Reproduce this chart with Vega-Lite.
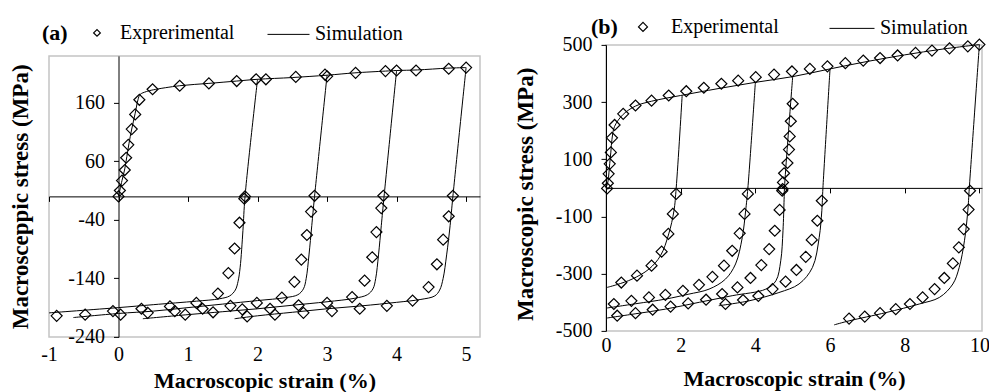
{
  "$schema": "https://vega.github.io/schema/vega-lite/v6.json",
  "background": "white",
  "padding": {"left": 8, "top": 4.5, "right": 0, "bottom": 0},
  "spacing": 32,
  "center": true,
  "config": {
    "font": "Liberation Serif",
    "view": {"stroke": "#c4c4c4", "strokeWidth": 1.5},
    "axis": {"grid": false, "domainColor": "black", "tickColor": "black", "labelColor": "black", "titleColor": "black", "labelFont": "Liberation Serif", "titleFont": "Liberation Serif", "labelFontSize": 20, "titleFontSize": 22, "titleFontWeight": "bold", "tickSize": 5, "labelFlush": false, "labelOverlap": false, "domainWidth": 1, "tickWidth": 1, "labelExpr": "'' + datum.value"},
    "legend": {"labelFont": "Liberation Serif", "titleFont": "Liberation Serif", "labelColor": "black", "titleColor": "black", "labelFontSize": 20}
  },
  "resolve": {"scale": {"color": "independent", "shape": "independent", "x": "independent", "y": "independent"}, "legend": {"color": "independent", "shape": "independent"}},
  "datasets": {
    "a_sim": [
      {"s":"L","o":1,"x":0,"y":0},{"s":"L","o":2,"x":0.05,"y":27},{"s":"L","o":3,"x":0.09,"y":47},{"s":"L","o":4,"x":0.12,"y":68},{"s":"L","o":5,"x":0.15,"y":90},{"s":"L","o":6,"x":0.19,"y":115},{"s":"L","o":7,"x":0.24,"y":142},{"s":"L","o":8,"x":0.28,"y":165},{"s":"L","o":9,"x":0.31,"y":174},{"s":"L","o":10,"x":0.4,"y":179},{"s":"L","o":11,"x":0.5,"y":182},{"s":"L","o":12,"x":0.88,"y":189},{"s":"L","o":13,"x":1.3,"y":193},{"s":"L","o":14,"x":1.7,"y":197},{"s":"L","o":15,"x":2.0,"y":200},{"s":"L","o":16,"x":2.5,"y":203},{"s":"L","o":17,"x":3.0,"y":207},{"s":"L","o":18,"x":3.4,"y":211},{"s":"L","o":19,"x":3.84,"y":214},{"s":"L","o":20,"x":4.0,"y":215},{"s":"L","o":21,"x":4.3,"y":216},{"s":"L","o":22,"x":4.73,"y":219},{"s":"L","o":23,"x":5.0,"y":220},
      {"s":"C1","o":1,"x":2.0,"y":200},{"s":"C1","o":2,"x":1.82,"y":0},{"s":"C1","o":3,"x":1.79,"y":-58},{"s":"C1","o":4,"x":1.75,"y":-121},{"s":"C1","o":5,"x":1.72,"y":-145},{"s":"C1","o":6,"x":1.68,"y":-160},{"s":"C1","o":7,"x":1.6,"y":-170},{"s":"C1","o":8,"x":1.45,"y":-175},{"s":"C1","o":9,"x":1.12,"y":-179},{"s":"C1","o":10,"x":0.5,"y":-185},{"s":"C1","o":11,"x":0,"y":-190},{"s":"C1","o":12,"x":-1.0,"y":-199},
      {"s":"C2","o":1,"x":3.0,"y":207},{"s":"C2","o":2,"x":2.82,"y":0},{"s":"C2","o":3,"x":2.78,"y":-50},{"s":"C2","o":4,"x":2.74,"y":-100},{"s":"C2","o":5,"x":2.7,"y":-140},{"s":"C2","o":6,"x":2.66,"y":-158},{"s":"C2","o":7,"x":2.58,"y":-168},{"s":"C2","o":8,"x":2.4,"y":-173},{"s":"C2","o":9,"x":2.0,"y":-178},{"s":"C2","o":10,"x":1.5,"y":-184},{"s":"C2","o":11,"x":1.0,"y":-190},{"s":"C2","o":12,"x":0.5,"y":-196},{"s":"C2","o":13,"x":0,"y":-200},{"s":"C2","o":14,"x":-0.65,"y":-207},
      {"s":"C3","o":1,"x":4.0,"y":215},{"s":"C3","o":2,"x":3.82,"y":0},{"s":"C3","o":3,"x":3.78,"y":-50},{"s":"C3","o":4,"x":3.74,"y":-100},{"s":"C3","o":5,"x":3.7,"y":-140},{"s":"C3","o":6,"x":3.66,"y":-158},{"s":"C3","o":7,"x":3.58,"y":-168},{"s":"C3","o":8,"x":3.4,"y":-174},{"s":"C3","o":9,"x":3.0,"y":-180},{"s":"C3","o":10,"x":2.5,"y":-186},{"s":"C3","o":11,"x":2.0,"y":-192},{"s":"C3","o":12,"x":1.5,"y":-197},{"s":"C3","o":13,"x":1.0,"y":-202},{"s":"C3","o":14,"x":0.35,"y":-209},
      {"s":"C4","o":1,"x":5.0,"y":220},{"s":"C4","o":2,"x":4.81,"y":0},{"s":"C4","o":3,"x":4.77,"y":-50},{"s":"C4","o":4,"x":4.72,"y":-100},{"s":"C4","o":5,"x":4.67,"y":-140},{"s":"C4","o":6,"x":4.62,"y":-160},{"s":"C4","o":7,"x":4.55,"y":-170},{"s":"C4","o":8,"x":4.35,"y":-176},{"s":"C4","o":9,"x":4.0,"y":-181},{"s":"C4","o":10,"x":3.5,"y":-187},{"s":"C4","o":11,"x":3.0,"y":-192},{"s":"C4","o":12,"x":2.5,"y":-198},{"s":"C4","o":13,"x":2.0,"y":-204},{"s":"C4","o":14,"x":1.67,"y":-209}
    ],
    "a_exp": [
      {"x":0,"y":0},{"x":0.02,"y":10},{"x":0.05,"y":27},{"x":0.09,"y":45},{"x":0.11,"y":66},{"x":0.14,"y":88},{"x":0.19,"y":115},{"x":0.24,"y":140},{"x":0.3,"y":165},{"x":0.49,"y":183},{"x":0.88,"y":189},{"x":1.3,"y":193},{"x":1.7,"y":197},{"x":1.98,"y":200},{"x":2.12,"y":200},{"x":2.55,"y":204},{"x":2.97,"y":208},{"x":3.0,"y":205},{"x":3.41,"y":211},{"x":3.84,"y":214},{"x":4.0,"y":215},{"x":4.28,"y":215},{"x":4.75,"y":218},{"x":5.0,"y":220},
      {"x":1.82,"y":0},{"x":2.82,"y":1},{"x":3.81,"y":1},{"x":4.81,"y":1},
      {"x":1.81,"y":-4},{"x":1.74,"y":-45},{"x":1.67,"y":-89},{"x":1.58,"y":-131},{"x":1.43,"y":-166},{"x":1.12,"y":-182},{"x":0.74,"y":-188},{"x":0.33,"y":-192},{"x":-0.08,"y":-196},{"x":-0.48,"y":-202},{"x":-0.89,"y":-204},
      {"x":2.77,"y":-26},{"x":2.71,"y":-66},{"x":2.63,"y":-108},{"x":2.53,"y":-146},{"x":2.35,"y":-173},{"x":1.99,"y":-182},{"x":1.61,"y":-187},{"x":1.21,"y":-192},{"x":0.81,"y":-196},{"x":0.42,"y":-199},{"x":0.03,"y":-202},
      {"x":3.78,"y":-20},{"x":3.71,"y":-61},{"x":3.65,"y":-104},{"x":3.54,"y":-144},{"x":3.36,"y":-172},{"x":3.0,"y":-182},{"x":2.59,"y":-186},{"x":2.18,"y":-192},{"x":1.78,"y":-193},{"x":1.36,"y":-198},{"x":0.96,"y":-202},
      {"x":4.75,"y":-34},{"x":4.67,"y":-74},{"x":4.58,"y":-116},{"x":4.46,"y":-155},{"x":4.23,"y":-178},{"x":3.86,"y":-187},{"x":3.47,"y":-192},{"x":3.07,"y":-196},{"x":2.66,"y":-199},{"x":2.25,"y":-202},{"x":1.85,"y":-205}
    ],
    "b_sim": [
      {"s":"L","o":1,"x":0,"y":0},{"s":"L","o":2,"x":0.05,"y":20},{"s":"L","o":3,"x":0.08,"y":55},{"s":"L","o":4,"x":0.1,"y":85},{"s":"L","o":5,"x":0.13,"y":125},{"s":"L","o":6,"x":0.16,"y":170},{"s":"L","o":7,"x":0.23,"y":215},{"s":"L","o":8,"x":0.46,"y":257},{"s":"L","o":9,"x":0.79,"y":286},{"s":"L","o":10,"x":1.22,"y":303},{"s":"L","o":11,"x":2.0,"y":323},{"s":"L","o":12,"x":3.0,"y":347},{"s":"L","o":13,"x":4.0,"y":369},{"s":"L","o":14,"x":5.0,"y":389},{"s":"L","o":15,"x":6.0,"y":416},{"s":"L","o":16,"x":7.0,"y":442},{"s":"L","o":17,"x":8.0,"y":465},{"s":"L","o":18,"x":9.0,"y":485},{"s":"L","o":19,"x":10.0,"y":501},
      {"s":"C1","o":1,"x":2.04,"y":323},{"s":"C1","o":2,"x":1.88,"y":0},{"s":"C1","o":3,"x":1.82,"y":-80},{"s":"C1","o":4,"x":1.68,"y":-161},{"s":"C1","o":5,"x":1.46,"y":-237},{"s":"C1","o":6,"x":1.15,"y":-284},{"s":"C1","o":7,"x":0.7,"y":-319},{"s":"C1","o":8,"x":0.3,"y":-338},{"s":"C1","o":9,"x":0.03,"y":-348},
      {"s":"C2","o":1,"x":4.0,"y":369},{"s":"C2","o":2,"x":3.8,"y":0},{"s":"C2","o":3,"x":3.74,"y":-80},{"s":"C2","o":4,"x":3.65,"y":-173},{"s":"C2","o":5,"x":3.47,"y":-266},{"s":"C2","o":6,"x":3.2,"y":-319},{"s":"C2","o":7,"x":2.76,"y":-354},{"s":"C2","o":8,"x":2.2,"y":-372},{"s":"C2","o":9,"x":1.59,"y":-389},{"s":"C2","o":10,"x":0.8,"y":-405},{"s":"C2","o":11,"x":0.03,"y":-420},
      {"s":"C3","o":1,"x":5.0,"y":389},{"s":"C3","o":2,"x":4.78,"y":0},{"s":"C3","o":3,"x":4.77,"y":-40},{"s":"C3","o":4,"x":4.74,"y":-150},{"s":"C3","o":5,"x":4.68,"y":-255},{"s":"C3","o":6,"x":4.55,"y":-325},{"s":"C3","o":7,"x":4.28,"y":-354},{"s":"C3","o":8,"x":3.38,"y":-377},{"s":"C3","o":9,"x":2.5,"y":-400},{"s":"C3","o":10,"x":1.59,"y":-424},{"s":"C3","o":11,"x":0.8,"y":-440},{"s":"C3","o":12,"x":0.03,"y":-455},
      {"s":"C4","o":1,"x":6.0,"y":416},{"s":"C4","o":2,"x":5.81,"y":0},{"s":"C4","o":3,"x":5.78,"y":-80},{"s":"C4","o":4,"x":5.71,"y":-173},{"s":"C4","o":5,"x":5.53,"y":-278},{"s":"C4","o":6,"x":5.17,"y":-336},{"s":"C4","o":7,"x":4.63,"y":-366},{"s":"C4","o":8,"x":3.83,"y":-395},{"s":"C4","o":9,"x":3.02,"y":-412},
      {"s":"C5","o":1,"x":10.0,"y":501},{"s":"C5","o":2,"x":9.73,"y":0},{"s":"C5","o":3,"x":9.69,"y":-80},{"s":"C5","o":4,"x":9.6,"y":-185},{"s":"C5","o":5,"x":9.46,"y":-278},{"s":"C5","o":6,"x":9.29,"y":-336},{"s":"C5","o":7,"x":8.93,"y":-383},{"s":"C5","o":8,"x":8.39,"y":-406},{"s":"C5","o":9,"x":7.5,"y":-436},{"s":"C5","o":10,"x":6.51,"y":-465},{"s":"C5","o":11,"x":6.11,"y":-479}
    ],
    "b_exp": [
      {"x":0.03,"y":-2},{"x":0.05,"y":16},{"x":0.07,"y":49},{"x":0.1,"y":84},{"x":0.13,"y":124},{"x":0.16,"y":175},{"x":0.23,"y":220},{"x":0.46,"y":259},{"x":0.79,"y":288},{"x":1.22,"y":305},{"x":1.68,"y":323},{"x":2.15,"y":338},{"x":2.62,"y":350},{"x":3.09,"y":364},{"x":3.54,"y":375},{"x":4.01,"y":387},{"x":4.5,"y":396},{"x":4.98,"y":407},{"x":5.46,"y":416},{"x":5.93,"y":425},{"x":6.41,"y":436},{"x":6.89,"y":445},{"x":7.34,"y":454},{"x":7.81,"y":463},{"x":8.29,"y":472},{"x":8.73,"y":480},{"x":9.2,"y":488},{"x":9.69,"y":495},{"x":10.0,"y":501},
      {"x":4.73,"y":-4},{"x":4.74,"y":19},{"x":4.77,"y":51},{"x":4.86,"y":87},{"x":4.9,"y":134},{"x":4.92,"y":180},{"x":4.95,"y":233},{"x":5.0,"y":294},
      {"x":1.88,"y":-21},{"x":1.79,"y":-91},{"x":1.67,"y":-161},{"x":1.49,"y":-223},{"x":1.22,"y":-272},{"x":0.83,"y":-307},{"x":0.41,"y":-331},
      {"x":3.8,"y":-21},{"x":3.71,"y":-91},{"x":3.58,"y":-159},{"x":3.38,"y":-220},{"x":3.16,"y":-272},{"x":2.85,"y":-311},{"x":2.49,"y":-339},{"x":2.06,"y":-360},{"x":1.59,"y":-374},{"x":1.15,"y":-383},{"x":0.68,"y":-395},{"x":0.21,"y":-406},
      {"x":4.72,"y":-10},{"x":4.65,"y":-77},{"x":4.52,"y":-150},{"x":4.37,"y":-214},{"x":4.16,"y":-270},{"x":3.87,"y":-315},{"x":3.52,"y":-348},{"x":3.11,"y":-371},{"x":2.68,"y":-391},{"x":2.2,"y":-404},{"x":1.73,"y":-415},{"x":1.25,"y":-426},{"x":0.79,"y":-438},{"x":0.3,"y":-447},
      {"x":5.78,"y":-45},{"x":5.66,"y":-115},{"x":5.51,"y":-182},{"x":5.35,"y":-241},{"x":5.1,"y":-287},{"x":4.81,"y":-328},{"x":4.46,"y":-354},{"x":4.08,"y":-378},{"x":3.67,"y":-392},{"x":3.2,"y":-406},
      {"x":9.75,"y":-10},{"x":9.71,"y":-76},{"x":9.58,"y":-144},{"x":9.45,"y":-208},{"x":9.29,"y":-264},{"x":9.06,"y":-315},{"x":8.8,"y":-354},{"x":8.48,"y":-383},{"x":8.14,"y":-406},{"x":7.76,"y":-424},{"x":7.34,"y":-438},{"x":6.93,"y":-450},{"x":6.51,"y":-457}
    ]
  },
  "hconcat": [
    {
      "width": 431,
      "height": 281,
      "layer": [
        {
          "data": {"name": "a_sim"},
          "mark": {"type": "line", "strokeWidth": 1, "interpolate": "catmull-rom"},
          "encoding": {
            "x": {"field": "x", "type": "quantitative", "scale": {"domain": [-1, 5.2], "nice": false, "zero": false},
                  "axis": {"values": [-1, 0, 1, 2, 3, 4, 5], "offset": -140.5, "labelPadding": 159, "labelBaseline": "alphabetic", "title": "Macroscopic strain (%)", "titleY": 191, "titleBaseline": "alphabetic"}},
            "y": {"field": "y", "type": "quantitative", "scale": {"domain": [-240, 240], "nice": false, "zero": false},
                  "axis": {"values": [-240, -140, -40, 60, 160], "offset": -69.5, "labelPadding": 9, "title": "Macrosceppic stress (MPa)", "titleFontSize": 23, "titleX": -86}},
            "detail": {"field": "s"},
            "order": {"field": "o"},
            "color": {"datum": "Simulation", "type": "nominal", "scale": {"domain": ["Simulation"], "range": ["black"]},
                      "legend": {"orient": "none", "legendX": 211.5, "legendY": -49.5, "padding": 6.5, "title": null, "labelOffset": 5, "symbolType": "stroke", "symbolSize": 1764, "symbolStrokeWidth": 1, "symbolStrokeColor": "black"}}
          }
        },
        {
          "data": {"name": "a_exp"},
          "mark": {"type": "point", "shape": "diamond", "filled": false, "color": "black", "size": 121, "strokeWidth": 1.2, "opacity": 1},
          "encoding": {
            "x": {"field": "x", "type": "quantitative"},
            "y": {"field": "y", "type": "quantitative"},
            "shape": {"datum": "Exprerimental", "type": "nominal", "scale": {"domain": ["Exprerimental"], "range": ["diamond"]},
                      "legend": {"orient": "none", "legendX": -7, "legendY": -33, "title": "(a)", "titleOrient": "left", "titleFontSize": 22, "titleFontWeight": "bold", "titlePadding": 19, "labelOffset": 13, "symbolSize": 45, "symbolStrokeColor": "black", "symbolFillColor": "transparent", "symbolStrokeWidth": 1.2}}
          }
        }
      ]
    },
    {
      "width": 376,
      "height": 286,
      "layer": [
        {
          "data": {"name": "b_sim"},
          "mark": {"type": "line", "strokeWidth": 1, "interpolate": "catmull-rom"},
          "encoding": {
            "x": {"field": "x", "type": "quantitative", "scale": {"domain": [0, 10.07], "nice": false, "zero": false},
                  "axis": {"values": [0, 2, 4, 6, 8, 10], "offset": -143, "labelPadding": 159, "labelBaseline": "alphabetic", "title": ["Macroscopic strain (%)", ""], "titleLineHeight": 12.5, "titleY": 198, "titleBaseline": "alphabetic"}},
            "y": {"field": "y", "type": "quantitative", "scale": {"domain": [-500, 500], "nice": false, "zero": false},
                  "axis": {"values": [-500, -300, -100, 100, 300, 500], "labelPadding": 9, "title": "Macroscopic stress (MPa)", "titleFontSize": 23, "titleX": -69, "titleY": 149}},
            "detail": {"field": "s"},
            "order": {"field": "o"},
            "color": {"datum": "Simulation", "type": "nominal", "scale": {"domain": ["Simulation"], "range": ["black"]},
                      "legend": {"orient": "none", "legendX": 223, "legendY": -39.5, "title": null, "labelOffset": 5, "symbolType": "stroke", "symbolSize": 2025, "symbolStrokeWidth": 1, "symbolStrokeColor": "black"}}
          }
        },
        {
          "data": {"name": "b_exp"},
          "mark": {"type": "point", "shape": "diamond", "filled": false, "color": "black", "size": 121, "strokeWidth": 1.2, "opacity": 1},
          "encoding": {
            "x": {"field": "x", "type": "quantitative"},
            "y": {"field": "y", "type": "quantitative"},
            "shape": {"datum": "Experimental", "type": "nominal", "scale": {"domain": ["Experimental"], "range": ["diamond"]},
                      "legend": {"orient": "none", "legendX": -15, "legendY": -28, "title": "(b)", "titleOrient": "left", "titleFontSize": 22, "titleFontWeight": "bold", "titlePadding": 15, "labelOffset": 18, "symbolSize": 80, "symbolStrokeColor": "black", "symbolFillColor": "transparent", "symbolStrokeWidth": 1.2}}
          }
        }
      ]
    }
  ]
}
